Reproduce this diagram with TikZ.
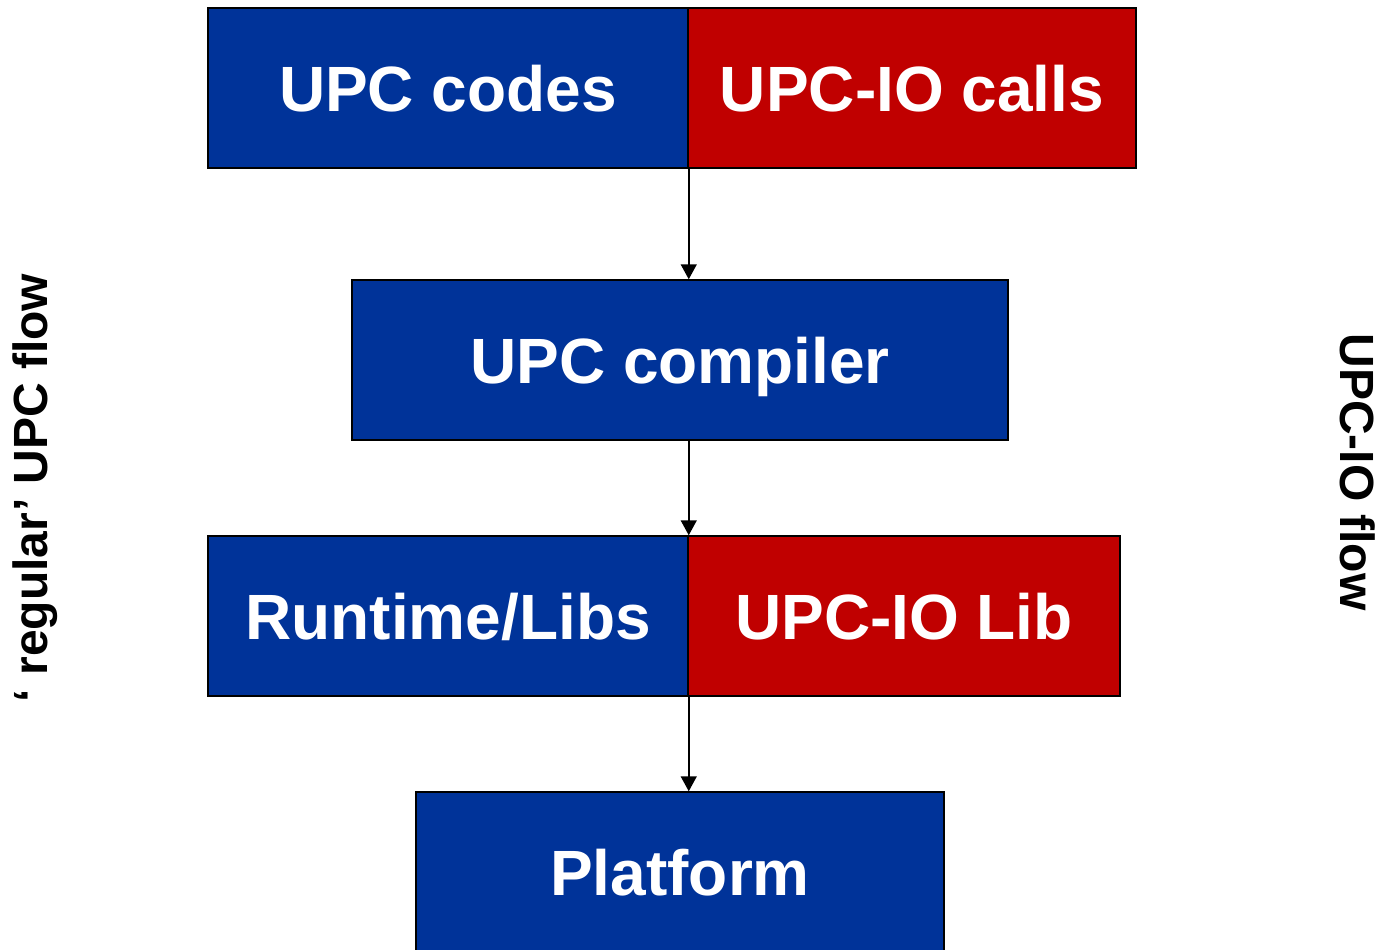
\documentclass[tikz,border=0pt]{standalone}
\usepackage{fontspec}
\setmainfont{Liberation Sans}
\usetikzlibrary{arrows.meta}
\definecolor{upcblue}{HTML}{003399}
\definecolor{upcred}{HTML}{C00000}
\begin{document}
\begin{tikzpicture}[x=1pt,y=-1pt,
  boxstyle/.style={draw=black,line width=1.5pt,text=white,inner sep=0pt,
    text height=46pt,text depth=0pt,
    font=\fontsize{64}{70}\selectfont\bfseries},
  bluebox/.style={boxstyle,fill=upcblue},
  redbox/.style={boxstyle,fill=upcred},
  flowarrow/.style={line width=1.5pt,-{Triangle[width=16pt,length=15pt]}},
  sidetext/.style={font=\fontsize{48}{52}\selectfont\bfseries,inner sep=0pt}]
\useasboundingbox (0,0) rectangle (1384,950);
\node[bluebox,minimum width=480pt,minimum height=160pt] (codes) at (448,88) {UPC codes};
\node[redbox,minimum width=448pt,minimum height=160pt] (calls) at (912,88) {UPC-IO calls};
\node[bluebox,minimum width=656pt,minimum height=160pt] (compiler) at (680,360) {UPC compiler};
\node[bluebox,minimum width=480pt,minimum height=160pt] (runtime) at (448,616) {Runtime/Libs};
\node[redbox,minimum width=432pt,minimum height=160pt] (iolib) at (904,616) {UPC-IO Lib};
\node[bluebox,minimum width=528pt,minimum height=160pt] (platform) at (680,872) {Platform};
\coordinate (a1) at (codes.south east);
\coordinate (a2) at (runtime.south east);
\draw[flowarrow] (a1) -- (a1 |- compiler.north);
\draw[flowarrow] (a1 |- compiler.south) -- (a1 |- runtime.north);
\draw[flowarrow] (a2) -- (a2 |- platform.north);
\node[sidetext,rotate=90] (left) at (35,488) {‘ regular’ UPC flow};
\node[sidetext,rotate=-90] (right) at (1358,472) {UPC-IO flow};
\end{tikzpicture}
\end{document}
